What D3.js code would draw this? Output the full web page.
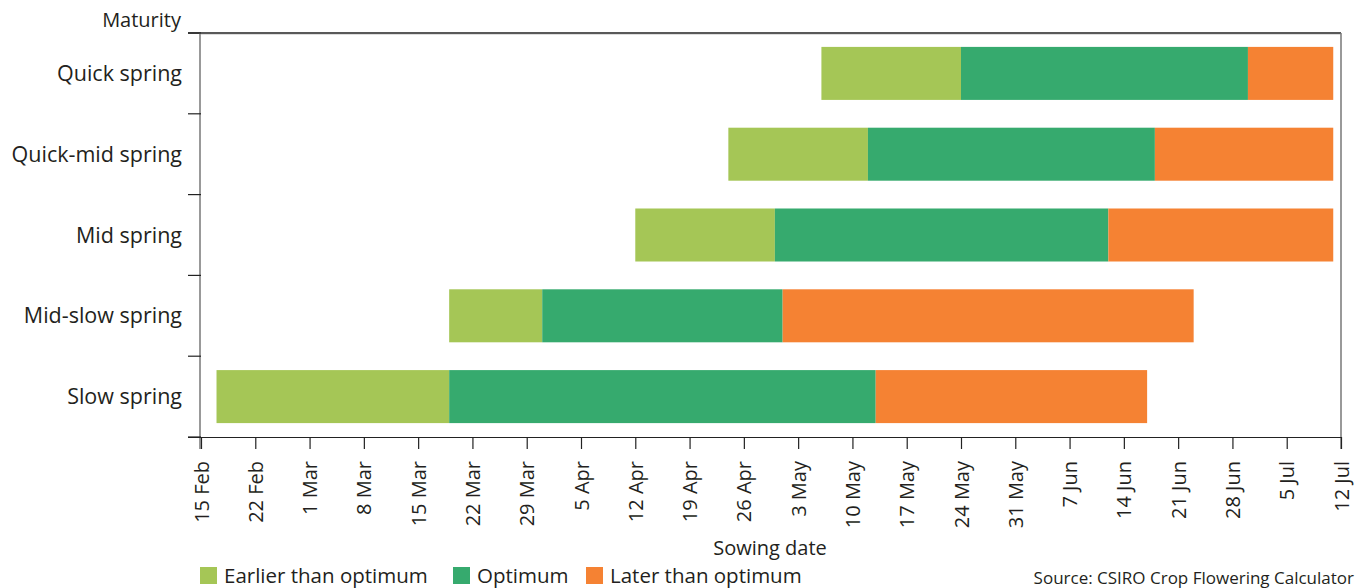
<!DOCTYPE html>
<html><head><meta charset="utf-8">
<script src="https://cdn.jsdelivr.net/npm/d3@7"></script>
<style>body{margin:0;background:#fff}text{font-family:"Open Sans",Lato,sans-serif;fill:#231f20}</style>
</head><body>
<svg id="c" width="1364" height="588"></svg>
<script>
const categories = ["Quick spring","Quick-mid spring","Mid spring","Mid-slow spring","Slow spring"];
const earlyStart = ["2022-05-06","2022-04-24","2022-04-12","2022-03-19","2022-02-17"];
const optStart   = ["2022-05-24","2022-05-12","2022-04-30","2022-03-31","2022-03-19"];
const lateStart  = ["2022-06-30","2022-06-18","2022-06-12","2022-05-01","2022-05-13"];
const lateEnd    = ["2022-07-11","2022-07-11","2022-07-11","2022-06-23","2022-06-17"];
const seriesNames = ["Earlier than optimum","Optimum","Later than optimum"];
const seriesColors = ["#a5c656","#36aa6e","#f58233"];
const tickDates = ["2022-02-15","2022-02-22","2022-03-01","2022-03-08","2022-03-15","2022-03-22","2022-03-29","2022-04-05","2022-04-12","2022-04-19","2022-04-26","2022-05-03","2022-05-10","2022-05-17","2022-05-24","2022-05-31","2022-06-07","2022-06-14","2022-06-21","2022-06-28","2022-07-05","2022-07-12"];

const parse = d3.utcParse("%Y-%m-%d");
const svg = d3.select("#c");
const L=201, R=1341, T=33, B=437;
const x = d3.scaleUtc().domain([parse("2022-02-15"), parse("2022-07-12")]).range([L,R]);
const y = d3.scaleBand().domain(categories).range([T,B]).paddingInner(0.344).paddingOuter(0.172);

// bars
const rows = categories.map((c,i)=>[
  {cat:c,s:0,a:earlyStart[i],b:optStart[i]},
  {cat:c,s:1,a:optStart[i],b:lateStart[i]},
  {cat:c,s:2,a:lateStart[i],b:lateEnd[i]}
]).flat();
svg.append("g").selectAll("rect").data(rows).join("rect")
  .attr("x",d=>x(parse(d.a))).attr("width",d=>x(parse(d.b))-x(parse(d.a)))
  .attr("y",d=>y(d.cat)).attr("height",y.bandwidth())
  .attr("fill",d=>seriesColors[d.s]);

// frame
svg.append("line").attr("x1",188).attr("x2",R).attr("y1",T).attr("y2",T).attr("stroke","#222").attr("stroke-width",1.5);
svg.append("line").attr("x1",L).attr("x2",R).attr("y1",T+1.5).attr("y2",T+1.5).attr("stroke","#ddd").attr("stroke-width",1);
svg.append("line").attr("x1",R).attr("x2",R).attr("y1",T).attr("y2",B+12).attr("stroke","#777").attr("stroke-width",1.5);
svg.append("line").attr("x1",L-1).attr("x2",L-1).attr("y1",T).attr("y2",B+12).attr("stroke","#777").attr("stroke-width",1.5);

// y ticks at band boundaries
const bounds = d3.range(categories.length+1).map(i=>T+i*(B-T)/categories.length);
svg.append("g").selectAll("line").data(bounds).join("line")
  .attr("x1",188).attr("x2",L).attr("y1",d=>d).attr("y2",d=>d).attr("stroke","#222").attr("stroke-width",1.2);

// y labels
svg.append("g").selectAll("text").data(categories).join("text")
  .attr("x",182).attr("y",d=>y(d)+y.bandwidth()/2).attr("dy","0.35em")
  .attr("text-anchor","end").attr("font-size",21.5).text(d=>d);
svg.append("text").attr("x",181).attr("y",27).attr("text-anchor","end").attr("font-size",20).text("Maturity");

// x axis
const xAxis = d3.axisBottom(x).tickValues(tickDates.map(parse)).tickSize(12).tickSizeOuter(0).tickPadding(4)
  .tickFormat(d3.utcFormat("%-d %b"));
const gx = svg.append("g").attr("transform",`translate(0,${B})`).call(xAxis);
gx.select(".domain").attr("stroke","#222").attr("stroke-width",1.2).attr("d",`M${188},0.5H${R}`);
gx.selectAll(".tick line").attr("stroke","#222").attr("stroke-width",1.2);
gx.selectAll(".tick text").attr("font-size",20).attr("font-family","'Open Sans',Lato,sans-serif").attr("fill","#231f20")
  .attr("transform","rotate(-90)").attr("text-anchor","end").attr("x",-24).attr("y",0).attr("dy","0.35em");

svg.append("text").attr("x",770).attr("y",555).attr("text-anchor","middle").attr("font-size",20).text("Sowing date");

// legend
const legX = [200,453,586];
const lg = svg.append("g").selectAll("g").data(seriesNames).join("g")
  .attr("transform",(d,i)=>`translate(${legX[i]},567)`);
lg.append("rect").attr("width",17).attr("height",17).attr("fill",(d,i)=>seriesColors[i]);
lg.append("text").attr("x",24).attr("y",16).attr("font-size",20.5).text(d=>d);

svg.append("text").attr("x",1354).attr("y",584).attr("text-anchor","end").attr("font-size",17).text("Source: CSIRO Crop Flowering Calculator");
</script>
</body></html>
